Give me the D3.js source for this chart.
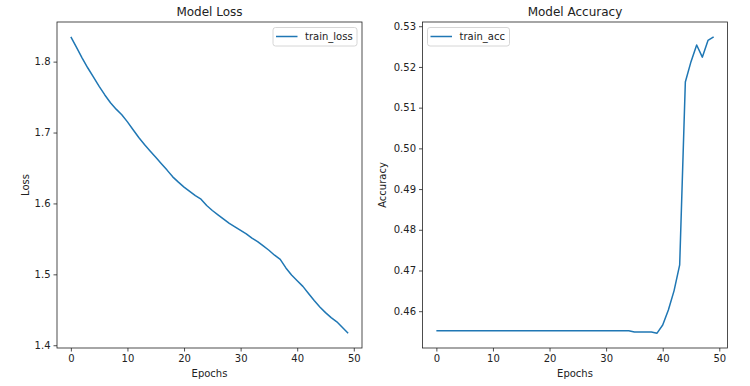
<!DOCTYPE html>
<html><head><meta charset="utf-8">
<script src="https://cdn.jsdelivr.net/npm/d3@7"></script>
<style>body{margin:0;background:#fff}svg{display:block}text{font-family:"DejaVu Sans",sans-serif;fill:#222}</style>
</head><body><svg id="c" width="750" height="386"></svg>
<script>
const epochs = d3.range(0, 50);
const trainLoss = [1.835,1.820,1.805,1.791,1.778,1.765,1.753,1.742,1.733,1.725,
  1.715,1.704,1.693,1.683,1.674,1.665,1.656,1.647,1.6375,1.630,
  1.623,1.617,1.611,1.606,1.597,1.590,1.584,1.578,1.572,1.567,
  1.562,1.557,1.551,1.546,1.540,1.534,1.527,1.521,1.509,1.499,
  1.491,1.483,1.473,1.463,1.454,1.446,1.439,1.433,1.425,1.417];
const trainAcc = epochs.map(i => i <= 34 ? 0.4552 : (i <= 38 ? 0.4549 : null));
const accTail = [0.4546,0.4566,0.4603,0.4650,0.4714,0.5163,0.5213,0.5254,0.5224,0.5265,0.5274];
accTail.forEach((v, k) => trainAcc[39 + k] = v);
const xTicks = [0,10,20,30,40,50];
const lossTicks = [1.4,1.5,1.6,1.7,1.8];
const accTicks = [0.46,0.47,0.48,0.49,0.50,0.51,0.52,0.53];

const svg = d3.select("#c");
const color = "#1f77b4";

function panel(cfg) {
  const {left, right, top, bottom, data, ticks, fmt, title, ylabel, legend, legendPos, ylabelX} = cfg;
  const ext = d3.extent(data);
  const pad = (ext[1]-ext[0])*0.05;
  const x = d3.scaleLinear().domain([-2.45, 51.45]).range([left, right]);
  const y = d3.scaleLinear().domain([ext[0]-pad, ext[1]+pad]).range([bottom, top]);
  const g = svg.append("g");
  const xa = g.append("g").attr("transform", `translate(0,${bottom})`)
    .call(d3.axisBottom(x).tickValues(xTicks).tickFormat(d3.format("d")).tickSize(3.5).tickPadding(3));
  const ya = g.append("g").attr("transform", `translate(${left},0)`)
    .call(d3.axisLeft(y).tickValues(ticks).tickFormat(fmt).tickSize(3.5).tickPadding(3));
  [xa, ya].forEach(a => { a.select(".domain").remove(); a.selectAll("text").attr("font-size", 10).style("font-family","DejaVu Sans").attr("fill","#222"); a.selectAll("line").attr("stroke","#222").attr("stroke-width",0.8); });
  g.append("path").datum(data)
    .attr("fill","none").attr("stroke",color).attr("stroke-width",1.5).attr("stroke-linejoin","round")
    .attr("d", d3.line().x((d,i)=>x(epochs[i])).y(d=>y(d)));
  g.append("rect").attr("x",left).attr("y",top).attr("width",right-left).attr("height",bottom-top)
    .attr("fill","none").attr("stroke","#222").attr("stroke-width",0.8);
  g.append("text").attr("x",(left+right)/2).attr("y",top-6).attr("text-anchor","middle").attr("font-size",12).text(title);
  g.append("text").attr("x",(left+right)/2).attr("y",bottom+29).attr("text-anchor","middle").attr("font-size",10).text("Epochs");
  g.append("text").attr("transform",`translate(${ylabelX},${(top+bottom)/2}) rotate(-90)`).attr("text-anchor","middle").attr("font-size",10).text(ylabel);
  const [lx, lw] = legendPos;
  const lg = g.append("g");
  lg.append("rect").attr("x",lx).attr("y",27.5).attr("width",lw).attr("height",18.5).attr("rx",2.5)
    .attr("fill","#fff").attr("fill-opacity",0.8).attr("stroke","#ccc").attr("stroke-width",0.8);
  lg.append("line").attr("x1",lx+3).attr("x2",lx+24.5).attr("y1",36.5).attr("y2",36.5).attr("stroke",color).attr("stroke-width",1.5);
  lg.append("text").attr("x",lx+32).attr("y",40.2).attr("font-size",10).text(legend);
}

panel({left:57, right:362, top:22, bottom:348, data:trainLoss, ticks:lossTicks, fmt:d3.format(".1f"),
  title:"Model Loss", ylabel:"Loss", legend:"train_loss", legendPos:[273,84], ylabelX:29});
panel({left:422.5, right:727.5, top:22, bottom:348, data:trainAcc, ticks:accTicks, fmt:d3.format(".2f"),
  title:"Model Accuracy", ylabel:"Accuracy", legend:"train_acc", legendPos:[427.5,82], ylabelX:386});
</script></body></html>
